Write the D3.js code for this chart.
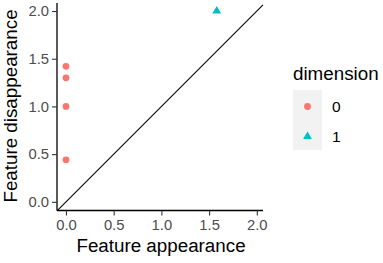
<!DOCTYPE html>
<html><head><meta charset="utf-8">
<script src="https://cdn.jsdelivr.net/npm/d3@7"></script>
<style>body{margin:0;background:#fff}svg{display:block}</style>
</head><body>
<script>
const births = [0, 0, 0, 0, 1.58];
const deaths = [1.42, 1.30, 1.00, 0.44, 2.00];
const dims = [0, 0, 0, 0, 1];
const xTicks = [0, 0.5, 1.0, 1.5, 2.0];
const yTicks = [0, 0.5, 1.0, 1.5, 2.0];
const legendLabels = ["0", "1"];
const colors = ["#F8766D", "#00BFC4"];

const W = 383, H = 263;
const svg = d3.select("body").append("svg").attr("width", W).attr("height", H);
const L = 57, R = 263, T = 3, B = 210.5;
const x = d3.scaleLinear().domain([-0.094, 2.065]).range([L, R]);
const y = d3.scaleLinear().domain([-0.091, 2.084]).range([B, T]);

// diagonal
const dmin = -0.094, dmax = 2.065;
svg.append("line").attr("x1", x(dmin)).attr("y1", y(dmin)).attr("x2", x(dmax)).attr("y2", y(dmax))
  .attr("stroke", "#000").attr("stroke-width", 1.1);

// axes
const xa = svg.append("g").attr("transform", `translate(0,${B})`)
  .call(d3.axisBottom(x).tickValues(xTicks).tickFormat(d3.format(".1f")).tickSizeOuter(0).tickSize(5).tickPadding(4));
const ya = svg.append("g").attr("transform", `translate(${L},0)`)
  .call(d3.axisLeft(y).tickValues(yTicks).tickFormat(d3.format(".1f")).tickSizeOuter(0).tickSize(5).tickPadding(3));
[xa, ya].forEach(a => {
  a.select(".domain").attr("stroke", "#000").attr("stroke-width", 1.3);
  a.selectAll(".tick line").attr("stroke", "#333").attr("stroke-width", 1.1);
  a.selectAll(".tick text").attr("fill", "#4D4D4D").style("font-family", "Liberation Sans, Arial, sans-serif").style("font-size", "14.8px");
});
xa.select(".domain").attr("d", `M${L},0H${R}`);
ya.select(".domain").attr("d", `M0,${B}V${T}`);

// points
const sym = d3.symbol();
svg.append("g").selectAll("path").data(births.map((b, i) => ({b, d: deaths[i], k: dims[i]})))
  .join("path")
  .attr("transform", p => `translate(${x(p.b)},${y(p.d)})`)
  .attr("d", p => p.k === 0 ? sym.type(d3.symbolCircle).size(36)() : sym.type(d3.symbolTriangle).size(34)())
  .attr("fill", p => colors[p.k]);

// titles
svg.append("text").attr("x", (L + R) / 2 + 1).attr("y", 252).attr("text-anchor", "middle")
  .style("font-family", "Liberation Sans, Arial, sans-serif").style("font-size", "18.8px").text("Feature appearance");
svg.append("text").attr("transform", `translate(17,106) rotate(-90)`).attr("text-anchor", "middle")
  .style("font-family", "Liberation Sans, Arial, sans-serif").style("font-size", "18.8px").text("Feature disappearance");

// legend
const lg = svg.append("g");
lg.append("text").attr("x", 293).attr("y", 80)
  .style("font-family", "Liberation Sans, Arial, sans-serif").style("font-size", "18.8px").text("dimension");
lg.append("rect").attr("x", 293).attr("y", 90).attr("width", 29).attr("height", 60).attr("fill", "#F2F2F2");
legendLabels.forEach((lab, i) => {
  const cy = 106.5 + i * 30;
  lg.append("path").attr("transform", `translate(307.5,${cy})`)
    .attr("d", (i === 0 ? sym.type(d3.symbolCircle).size(36) : sym.type(d3.symbolTriangle).size(34))())
    .attr("fill", colors[i]);
  lg.append("text").attr("x", 332).attr("y", cy + 5.5)
    .style("font-family", "Liberation Sans, Arial, sans-serif").style("font-size", "15.5px").text(lab);
});
</script>
</body></html>
